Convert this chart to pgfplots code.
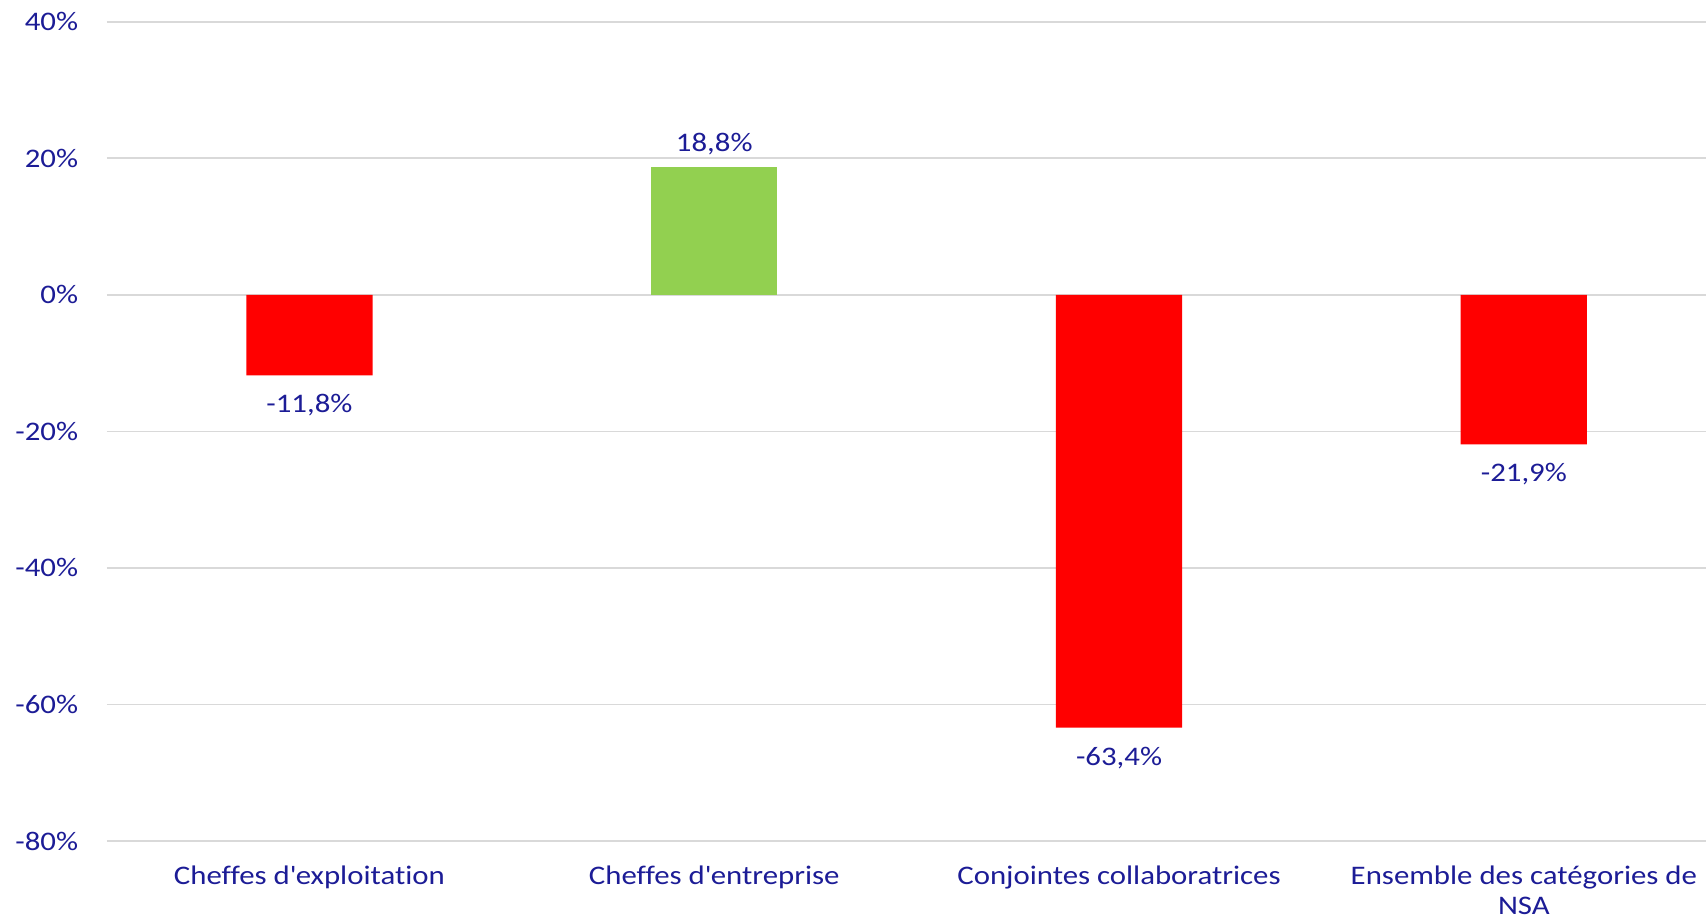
\documentclass[border=0pt]{standalone}
\usepackage{pgfplots}
\pgfplotsset{compat=1.18}
\usepackage{fontspec}
\setmainfont{Carlito}[FakeStretch=1.15, Ligatures=NoCommon]
\definecolor{txtblue}{RGB}{28,28,150}
\definecolor{barred}{RGB}{255,0,0}
\definecolor{bargreen}{RGB}{146,208,80}
\definecolor{gridgray}{RGB}{217,217,217}
\begin{document}
\begin{tikzpicture}
\begin{axis}[
    scale only axis,
    width=399.75pt, height=204.8pt,
    xmin=-0.5, xmax=3.45,
    ymin=-80, ymax=40,
    ytick={-80,-60,-40,-20,0,20,40},
    xtick={0,1,2,3},
    xticklabels={Cheffes d\textquotesingle exploitation, Cheffes d\textquotesingle entreprise, Conjointes collaboratrices, {Ensemble des catégories de\\NSA}},
    axis line style={draw=none},
    major tick length=0pt,
    ymajorgrids,
    grid style={gridgray, line width=0.45pt},
    yticklabel={\pgfmathprintnumber{\tick}\%},
    /pgf/number format/assume math mode=true,
    tick label style={font=\fontsize{6.7}{7.6}\selectfont, text=txtblue},
    yticklabel style={xshift=-3.7pt},
    xticklabel style={align=center, yshift=-2.6pt},
    ybar, bar width=0.312, bar shift=0pt,
    nodes near coords={\pgfmathprintnumber[fixed,fixed zerofill,precision=1,use comma]{\pgfplotspointmeta}\%},
    nodes near coords style={font=\fontsize{6.7}{7.6}\selectfont, text=txtblue, /pgf/number format/assume math mode=true, inner sep=4.6pt},
    clip=false,
]
\addplot[fill=barred, draw=none] coordinates {(0,-11.8) (2,-63.4) (3,-21.9)};
\addplot[fill=bargreen, draw=none, every node near coord/.append style={inner sep=2.7pt}] coordinates {(1,18.8)};
\end{axis}
\pgfresetboundingbox
\path[use as bounding box] (current axis.south west) ++(-26.75pt,-19.5pt) rectangle ([yshift=5.45pt]current axis.north east);
\end{tikzpicture}
\end{document}
